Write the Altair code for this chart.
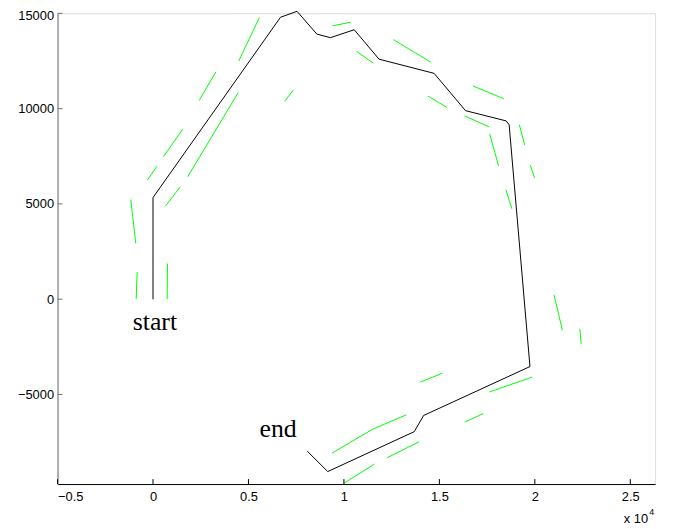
import altair as alt
import pandas as pd

# Black trajectory
path_x = [0, 0, 6677, 7544, 8582, 9294, 10540, 11838, 14724, 16370, 18499, 18655,
          19745, 14174, 13686, 9153, 8079]
path_y = [0, 5333, 14793, 15105, 13910, 13723, 14139, 12595, 11851, 9892, 9356, 9148,
          -3535, -6102, -6950, -9045, -7974]

# Green segments: (segment id, x, y)
seg_ids = [1, 1, 2, 2, 3, 3, 4, 4, 5, 5, 6, 6, 7, 7, 8, 8, 9, 9, 10, 10, 11, 11,
           12, 12, 13, 13, 14, 14, 15, 15, 16, 16, 17, 17, 18, 18, 19, 19, 20, 20,
           21, 21, 22, 22, 23, 23, 24, 24, 25, 25, 26, 26, 26, 27, 27, 28, 28]
seg_x = [5571, 4496, 3287, 2419, 4465, 1817, 1558, 550, 208, -280, 1433, 654,
         -1163, -903, 7352, 6905, 9413, 10363, -831, -883, 758, 742,
         10675, 11542, 12596, 14569, 14397, 15400, 16749, 18380, 16318, 17601,
         17632, 18099, 19190, 19470, 19761, 19989, 18484, 18795, 21007, 21443,
         22357, 22429, 13998, 15161, 17616, 19849, 16334, 17305,
         9377, 11490, 13271, 12269, 13930, 9984, 11609]
seg_y = [14778, 12506, 11919, 10427, 10843, 6425, 8920, 7485, 6981, 6269, 5905, 4886,
         5229, 2926, 10983, 10396, 14346, 14534, 1419, 0, 1871, 0,
         12995, 12387, 13619, 12423, 10656, 10063, 11191, 10516, 9616, 9045,
         8681, 6997, 9148, 8088, 7033, 6357, 5749, 4746, 224, -1632,
         -1559, -2360, -4351, -3883, -4871, -4091, -6446, -5999,
         -8078, -6830, -6066, -8317, -7485, -9668, -8649]

x_ticks = [-5000, 0, 5000, 10000, 15000, 20000, 25000]
y_ticks = [-5000, 0, 5000, 10000, 15000]

labels = ["start", "end"]
label_x = [100, 6550]
label_y = [-1600, -7225]

XDOM = [-5000, 26300]
YDOM = [-9700, 15000]
W, H = 603, 475

path_df = pd.DataFrame({"x": path_x, "y": path_y, "o": list(range(len(path_x)))})
seg_df = pd.DataFrame({"x": seg_x, "y": seg_y, "seg": seg_ids,
                       "o": list(range(len(seg_x)))})
lab_df = pd.DataFrame({"label": labels, "x": label_x, "y": label_y})
xt_df = pd.DataFrame({"v": x_ticks})
yt_df = pd.DataFrame({"v": y_ticks})

xs = alt.Scale(domain=XDOM, nice=False, zero=False)
ys = alt.Scale(domain=YDOM, nice=False, zero=False)

xaxis = alt.Axis(values=x_ticks, labelExpr="format(datum.value/10000, '.1~f')",
                 grid=False, ticks=False, domainColor="black", labelColor="black",
                 labelFont="Liberation Sans", labelFontSize=13, labelPadding=7,
                 title=None)
yaxis = alt.Axis(values=y_ticks, grid=False, ticks=False, domainColor="#6e6e6e",
                 labelColor="black", labelFont="Liberation Sans", labelFontSize=13,
                 labelPadding=4, title=None, format="d",
                 labelOffset={"condition": {"test": "datum.value == 15000", "value": 2},
                              "value": 0})

green = alt.Chart(seg_df).mark_line(color="#00ff00", strokeWidth=1).encode(
    x=alt.X("x:Q", scale=xs, axis=xaxis),
    y=alt.Y("y:Q", scale=ys, axis=yaxis),
    detail="seg:N",
    order="o:Q",
)

black = alt.Chart(path_df).mark_line(color="black", strokeWidth=1).encode(
    x=alt.X("x:Q", scale=xs),
    y=alt.Y("y:Q", scale=ys),
    order="o:Q",
)

text = alt.Chart(lab_df).mark_text(font="Liberation Serif", fontSize=26,
                                   align="center", baseline="alphabetic",
                                   color="black").encode(
    x=alt.X("x:Q", scale=xs),
    y=alt.Y("y:Q", scale=ys),
    text="label:N",
)

xticks = alt.Chart(xt_df).mark_rule(color="black", strokeWidth=1).encode(
    x=alt.X("v:Q", scale=xs),
    y=alt.value(H),
    y2=alt.value(H - 5),
)
yticks = alt.Chart(yt_df).mark_rule(color="#6e6e6e", strokeWidth=1).encode(
    y=alt.Y("v:Q", scale=ys),
    x=alt.value(0),
    x2=alt.value(5),
)

mult_df = pd.DataFrame({"t": ["x 10"]})
exp_df = pd.DataFrame({"t": ["4"]})
mult = alt.Chart(mult_df).mark_text(font="Liberation Sans", fontSize=13, align="right",
                                    baseline="alphabetic", color="black").encode(
    x=alt.value(596), y=alt.value(514), text="t:N")
expo = alt.Chart(exp_df).mark_text(font="Liberation Sans", fontSize=9, align="left",
                                   baseline="alphabetic", color="black").encode(
    x=alt.value(597), y=alt.value(506), text="t:N")

chart = alt.layer(green, black, text, xticks, yticks, mult, expo).properties(
    width=W, height=H,
    autosize=alt.AutoSizeParams(type="none"),
    padding={"left": 50, "top": 3, "right": 12, "bottom": 45},
).configure_view(stroke=None).configure(background="white")

chart.save("out.html", embed_options={"renderer": "svg", "actions": False})
